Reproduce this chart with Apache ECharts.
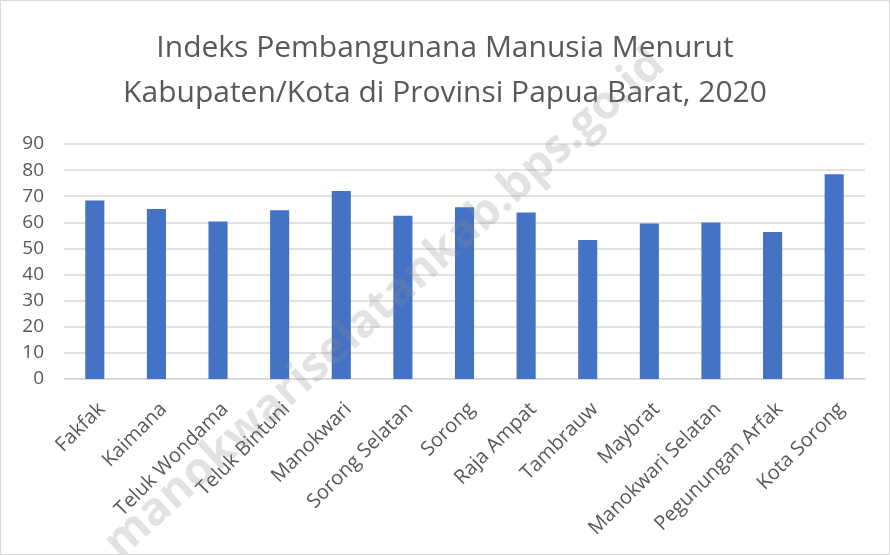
<!DOCTYPE html>
<html>
<head>
<meta charset="utf-8">
<script src="https://cdn.jsdelivr.net/npm/echarts@6/dist/echarts.min.js"></script>
<style>
    html, body { margin: 0; padding: 0; background: #fff; }
    #chart { width: 888px; height: 553px; border: 1px solid #d9d9d9; }
</style>
</head>
<body>
<div id="chart"></div>
<script>
    // data
    var categories = ['Fakfak', 'Kaimana', 'Teluk Wondama', 'Teluk Bintuni', 'Manokwari', 'Sorong Selatan',
        'Sorong', 'Raja Ampat', 'Tambrauw', 'Maybrat', 'Manokwari Selatan', 'Pegunungan Arfak', 'Kota Sorong'];
    var ipmValues = [68.4, 65.1, 60.3, 64.6, 72.0, 62.5, 65.8, 63.8, 53.2, 59.6, 59.9, 56.3, 78.4];
    var yTicks = [0, 10, 20, 30, 40, 50, 60, 70, 80, 90];

    var chart = echarts.init(document.getElementById('chart'));
    var textFont = 'Open Sans';

    var option = {
        animation: false,
        title: {
            text: 'Indeks Pembangunana Manusia Menurut\nKabupaten/Kota di Provinsi Papua Barat, 2020',
            left: 'center',
            top: 20,
            textStyle: {
                fontFamily: textFont,
                fontWeight: 'normal',
                fontSize: 30,
                lineHeight: 45,
                color: '#595959'
            }
        },
        grid: {
            left: 63,
            right: 24,
            top: 143,
            bottom: 175
        },
        xAxis: {
            type: 'category',
            data: categories,
            axisTick: { show: false },
            axisLine: { lineStyle: { color: '#d9d9d9', width: 1.5 } },
            axisLabel: {
                rotate: 45,
                margin: 20,
                interval: 0,
                verticalAlign: 'top',
                fontFamily: textFont,
                fontSize: 20,
                color: '#595959'
            }
        },
        yAxis: {
            type: 'value',
            min: yTicks[0],
            max: yTicks[yTicks.length - 1],
            interval: 10,
            axisLine: { show: false },
            axisTick: { show: false },
            splitLine: { lineStyle: { color: '#d9d9d9', width: 1.5 } },
            axisLabel: {
                margin: 20,
                fontFamily: textFont,
                fontSize: 19,
                color: '#595959'
            }
        },
        series: [{
            type: 'bar',
            data: ipmValues,
            barWidth: '31%',
            itemStyle: { color: '#4472c4' }
        }],
        graphic: [{
            type: 'text',
            left: 95,
            top: 40,
            z: 100,
            rotation: Math.PI * 42 / 180,
            originX: 0,
            originY: 0,
            style: {
                text: 'manokwariselatankab.bps.go.id',
                fontFamily: 'Open Sans',
                fontWeight: 'bold',
                fontSize: 46,
                fill: 'rgba(140,140,140,0.25)'
            }
        }]
    };
    option && chart.setOption(option);
</script>
</body>
</html>
